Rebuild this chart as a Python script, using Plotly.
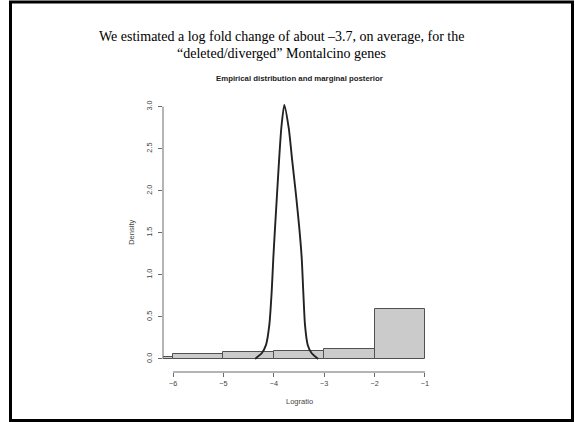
import plotly.graph_objects as go

# ---- data ----
bin_left = [-7, -6, -5, -4, -3, -2]
bin_right = [-6, -5, -4, -3, -2, -1]
bin_density = [0.02, 0.06, 0.087, 0.095, 0.12, 0.59]

curve_x = [-4.37, -4.353, -4.24, -4.155, -4.089, -4.042, -4.01, -3.976, -3.937,
           -3.897, -3.851, -3.792, -3.704, -3.633, -3.56, -3.494, -3.446,
           -3.415, -3.381, -3.327, -3.248, -3.137, -3.12]
curve_y = [0.0, 0.01, 0.068, 0.167, 0.405, 0.802, 1.198, 1.556, 1.952,
           2.349, 2.746, 3.02, 2.746, 2.349, 1.952, 1.556, 1.198,
           0.802, 0.405, 0.167, 0.068, 0.01, 0.0]

x_ticks = [-6, -5, -4, -3, -2, -1]
x_tick_text = ["\u22126", "\u22125", "\u22124", "\u22123", "\u22122", "\u22121"]
y_ticks = [0.0, 0.5, 1.0, 1.5, 2.0, 2.5, 3.0]
y_tick_text = ["0.0", "0.5", "1.0", "1.5", "2.0", "2.5", "3.0"]

slide_title_1 = "We estimated a log fold change of about \u20133.7, on average, for the"
slide_title_2 = "\u201cdeleted/diverged\u201d Montalcino genes"
plot_title = "Empirical distribution and marginal posterior"
x_label = "Logratio"
y_label = "Density"

# ---- geometry ----
W, H = 575, 422
L, R, T, B = 163, 435, 94.4, 372
PW, PH = R - L, B - T


def px(x):
    return (x - L) / PW


def py(y):
    return (B - y) / PH


fig = go.Figure()

# histogram bars
centers = [(a + b) / 2 for a, b in zip(bin_left, bin_right)]
widths = [b - a for a, b in zip(bin_left, bin_right)]
fig.add_trace(go.Bar(
    x=centers, y=bin_density, width=widths,
    marker=dict(color="#cbcbcb", line=dict(color="#505050", width=1)),
    showlegend=False, hoverinfo="skip"))

# posterior curve
fig.add_trace(go.Scatter(
    x=curve_x, y=curve_y, mode="lines",
    line=dict(color="#222222", width=1.9, shape="spline", smoothing=0.6),
    showlegend=False, hoverinfo="skip"))

axis_col = "#6a6a6a"
tick_font = dict(family="Liberation Sans, Arial, sans-serif", size=7.3, color="#444444")

fig.update_xaxes(range=[-6.2, -0.8], tickmode="array", tickvals=x_ticks,
                 ticktext=x_tick_text, ticks="outside", ticklen=4, tickwidth=1,
                 tickcolor=axis_col, showgrid=False, zeroline=False,
                 showline=False, tickfont=tick_font)
fig.update_yaxes(range=[-0.155, 3.15], tickmode="array", tickvals=y_ticks,
                 ticktext=y_tick_text, ticks="outside", ticklen=4, tickwidth=1,
                 tickcolor=axis_col, showgrid=False, zeroline=False,
                 showline=False, tickangle=-90, tickfont=tick_font,
                 ticklabelstandoff=3)

shapes = [
    # partial axis lines (R style)
    dict(type="line", xref="x", yref="paper", x0=x_ticks[0], x1=x_ticks[-1],
         y0=0, y1=0, line=dict(color=axis_col, width=1)),
    dict(type="line", xref="paper", yref="y", x0=0, x1=0,
         y0=y_ticks[0], y1=y_ticks[-1], line=dict(color=axis_col, width=1)),
    # slide frame
    dict(type="rect", xref="paper", yref="paper",
         x0=px(10.5), x1=px(572.5), y0=py(420.5), y1=py(2.5),
         line=dict(color="black", width=3)),
]

serif = dict(family="Liberation Serif, Times New Roman, serif", size=14, color="black")
sans = "Liberation Sans, Arial, sans-serif"
annotations = [
    dict(text=slide_title_1, x=px(281), y=py(37), xref="paper", yref="paper",
         showarrow=False, xanchor="center", yanchor="middle", font=serif),
    dict(text=slide_title_2, x=px(281), y=py(54), xref="paper", yref="paper",
         showarrow=False, xanchor="center", yanchor="middle", font=serif),
    dict(text="<b>" + plot_title + "</b>", x=px(299), y=py(79), xref="paper", yref="paper",
         showarrow=False, xanchor="center", yanchor="middle",
         font=dict(family=sans, size=7.8, color="#222222")),
    dict(text=x_label, x=px(299), y=py(401), xref="paper", yref="paper",
         showarrow=False, xanchor="center", yanchor="middle",
         font=dict(family=sans, size=7.5, color="#444444")),
    dict(text=y_label, x=px(132), y=py(233), xref="paper", yref="paper",
         showarrow=False, xanchor="center", yanchor="middle", textangle=-90,
         font=dict(family=sans, size=7.5, color="#444444")),
]

fig.update_layout(
    width=W, height=H,
    margin=dict(l=L, r=W - R, t=T, b=H - B, pad=0),
    paper_bgcolor="white", plot_bgcolor="white",
    bargap=0, shapes=shapes, annotations=annotations,
)

fig.write_html("out.html")
